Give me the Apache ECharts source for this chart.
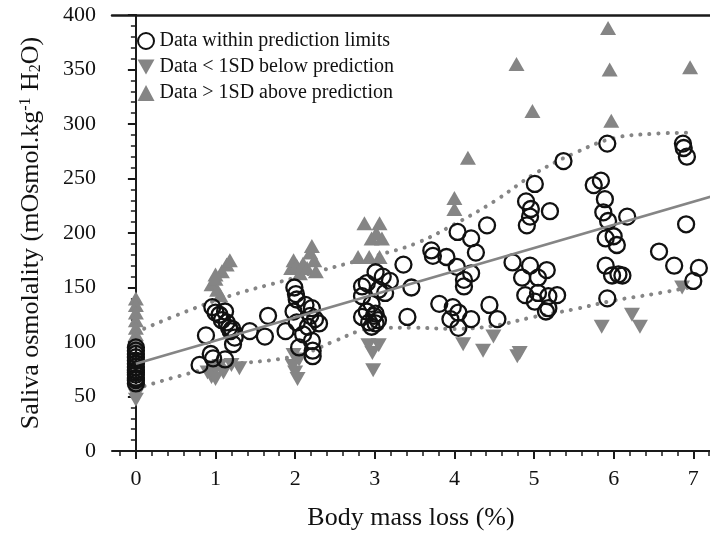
<!DOCTYPE html>
<html><head><meta charset="utf-8">
<script src="https://cdn.jsdelivr.net/npm/echarts@6/dist/echarts.min.js"></script>
<style>html,body{margin:0;padding:0;background:#fff}#c{width:710px;height:536px}</style>
</head><body><div id="c"></div>
<script>
var xTicks = [0,1,2,3,4,5,6,7];
var xMinorTicks = [-0.2,0.2,0.4,0.6,0.8,1.2,1.4,1.6,1.8,2.2,2.4,2.6,2.8,3.2,3.4,3.6,3.8,4.2,4.4,4.6,4.8,5.2,5.4,5.6,5.8,6.2,6.4,6.6,6.8,7.2];
var yTicks = [0,50,100,150,200,250,300,350,400];

var withinData = [
 [0,62],[0,65],[0,67],[0,70],[0,72],[0,74],[0,77],[0,80],[0,83],[0,86],[0,89],[0,92],[0,95],
 [0.80,79],[0.88,106],[0.94,89],[0.97,85],[0.96,132],[1.0,127],[1.05,125],[1.08,120],[1.12,128],[1.14,118],[1.17,113],[1.19,110],[1.21,112],[1.22,98],[1.24,104],[1.12,84],[1.43,110],[1.62,105],[1.66,124],
 [1.88,110],[1.99,150],[2.01,144],[2.02,139],[1.98,128],[2.02,118],[2.05,95],[2.10,107],[2.16,114],[2.21,131],[2.25,121],[2.21,101],[2.22,92],[2.22,87],[2.30,117],[2.19,124],[2.13,134],
 [2.84,151],[2.90,154],[3.01,164],[3.10,160],[3.19,156],[3.05,148],[3.13,145],[2.84,142],[2.96,135],[2.90,128],[3.01,126],[2.84,123],[2.93,118],[3.01,117],[2.99,124],[2.96,114],[3.04,120],[3.36,171],[3.46,150],[3.41,123],
 [3.71,184],[3.73,179],[3.90,178],[4.04,201],[4.03,169],[4.21,195],[4.27,182],[4.41,207],[4.21,163],[4.12,157],[4.12,151],[3.81,135],[3.98,132],[4.05,127],[3.95,121],[4.21,121],[4.05,113],[4.44,134],[4.54,121],
 [4.73,173],[4.90,229],[4.95,215],[4.96,222],[4.91,207],[5.01,245],[5.20,220],[5.37,266],[4.95,170],[4.85,159],[5.05,159],[5.16,166],[4.89,143],[5.05,145],[5.01,137],[5.18,131],[5.15,128],[5.29,143],[5.18,142],
 [5.92,282],[5.75,244],[5.84,248],[5.89,231],[5.87,219],[5.93,211],[6.17,215],[5.90,195],[6.00,197],[6.04,189],[5.90,170],[5.98,161],[6.06,162],[6.11,161],[5.92,140],[6.57,183],[6.76,170],[6.91,208],[6.87,282],[6.88,278],[6.92,270],[7.07,168],[7.0,156]
];
var belowData = [
 [0,55],[0,51],[0,47],
 [0.9,72],[0.95,68],[1.0,76],[1.05,78],[1.1,72],[1.2,79],[1.3,76],[1.0,66],
 [1.97,78],[2.0,72],[2.03,66],[2.05,84],[1.98,88],
 [2.92,97],[3.05,97],[2.97,90],[2.98,74],
 [4.11,98],[4.36,92],[4.49,105],[4.79,87],[4.82,90],
 [5.85,114],[6.23,125],[6.33,114],[6.86,150]
];
var aboveData = [
 [0,140],[0,134],[0,127],[0,120],[0,113],[0,107],[0,102],
 [0.95,153],[1.0,158],[1.02,148],[1.06,143],[1.08,165],[1.14,171],[1.18,175],[1.0,162],
 [1.95,168],[1.98,175],[2.02,170],[2.06,163],[2.1,172],[2.15,168],[2.19,182],[2.21,188],[2.24,175],[2.26,165],
 [2.87,209],[3.06,209],[2.96,195],[3.09,195],[3.02,200],[2.79,178],[2.93,178],[3.06,178],
 [4.0,232],[4.0,222],[4.17,269],
 [4.78,355],[4.98,312],
 [5.93,388],[5.95,350],[5.97,303],
 [6.96,352]
];
var regressionData = [[0,80],[7.25,234]];
var upperLimit = [[0,109],[1,138],[2,159],[3,179],[3.5,190],[4,208],[4.5,229],[5,254],[5.5,273],[6,287],[6.5,291],[6.95,292]];
var lowerLimit = [[0,57],[1,77],[2,87],[2.5,101],[2.8,110],[3,113],[3.5,113],[4,112],[4.5,115],[5,123],[5.5,130],[6,138],[6.5,144],[6.95,150]];

var FONT = '"Liberation Serif","Times New Roman",serif';
var AXC = '#1a1a1a';
var TXT = '#111';
var GRAY = '#858585';
var X_MIN = -0.3, X_MAX = 7.21;

var chart = echarts.init(document.getElementById('c'));
chart.setOption({
  animation: false,
  backgroundColor: '#fff',
  grid: {left: 112, top: 15, right: 0, bottom: 84},
  legend: {
    left: 132, top: 26, orient: 'vertical', itemGap: 6, itemWidth: 17, itemHeight: 16,
    textStyle: {fontFamily: FONT, fontSize: 20, color: TXT},
    data: ['Data within prediction limits', 'Data < 1SD below prediction', 'Data > 1SD above prediction']
  },
  xAxis: [
    {type: 'value', min: X_MIN, max: X_MAX, position: 'bottom',
     axisLine: {show: true, lineStyle: {color: AXC, width: 2}},
     axisTick: {show: true, customValues: xTicks, length: 8, lineStyle: {color: AXC, width: 2}},
     axisLabel: {customValues: xTicks, margin: 17, fontFamily: FONT, fontSize: 22, color: TXT},
     splitLine: {show: false},
     name: 'Body mass loss (%)', nameLocation: 'middle', nameGap: 54,
     nameTextStyle: {fontFamily: FONT, fontSize: 26, color: TXT}},
    {type: 'value', min: X_MIN, max: X_MAX, position: 'bottom',
     axisLine: {show: false},
     axisTick: {show: true, customValues: xMinorTicks, length: 5, lineStyle: {color: AXC, width: 1.5}},
     axisLabel: {show: false}, splitLine: {show: false}},
    {type: 'value', min: X_MIN, max: X_MAX, position: 'top',
     axisLine: {show: true, lineStyle: {color: AXC, width: 2.5}},
     axisTick: {show: false}, axisLabel: {show: false}, splitLine: {show: false}}
  ],
  yAxis: [
    {type: 'value', min: 0, max: 400, interval: 50, position: 'left',
     axisLine: {show: true, lineStyle: {color: AXC, width: 2}},
     axisTick: {show: true, length: 8, lineStyle: {color: AXC, width: 2}},
     minorTick: {show: true, splitNumber: 5, length: 5, lineStyle: {color: AXC, width: 1.5}},
     axisLabel: {margin: 16, fontFamily: FONT, fontSize: 22, color: TXT},
     splitLine: {show: false},
     name: 'Saliva osmolality (mOsmol.kg{sup|-1} H{sub|2}O)', nameLocation: 'middle', nameGap: 68,
     nameTextStyle: {fontFamily: FONT, fontSize: 26, color: TXT,
       rich: {sup: {fontFamily: FONT, fontSize: 16, color: TXT, verticalAlign: 'top', lineHeight: 26},
              sub: {fontFamily: FONT, fontSize: 16, color: TXT, verticalAlign: 'bottom', lineHeight: 26}}}},
    {type: 'value', min: 0, max: 400, interval: 50, position: 'right',
     axisLine: {show: true, lineStyle: {color: AXC, width: 2}},
     axisTick: {show: true, inside: true, length: 6, lineStyle: {color: AXC, width: 2}},
     axisLabel: {show: false}, splitLine: {show: false}}
  ],
  series: [
    {name: 'upper', type: 'line', data: upperLimit, smooth: 0.4, symbol: 'none', silent: true,
     lineStyle: {color: GRAY, width: 4, type: [0.1, 9], cap: 'round'}, z: 1},
    {name: 'lower', type: 'line', data: lowerLimit, smooth: 0.4, symbol: 'none', silent: true,
     lineStyle: {color: GRAY, width: 4, type: [0.1, 9], cap: 'round'}, z: 1},
    {name: 'Data > 1SD above prediction', type: 'scatter', data: aboveData,
     symbol: 'triangle', symbolSize: [16, 14], itemStyle: {color: GRAY, opacity: 1}, z: 2},
    {name: 'Data < 1SD below prediction', type: 'scatter', data: belowData,
     symbol: 'path://M0,0 L10,0 L5,8.7 Z', symbolSize: [16, 14], itemStyle: {color: GRAY, opacity: 1}, z: 2},
    {name: 'Data within prediction limits', type: 'scatter', data: withinData,
     symbol: 'circle', symbolSize: 16,
     itemStyle: {color: 'rgba(0,0,0,0)', borderColor: '#111', borderWidth: 2.3, opacity: 1}, z: 3},
    {name: 'regression', type: 'line', data: regressionData, symbol: 'none', silent: true,
     lineStyle: {color: GRAY, width: 2.5}, z: 4}
  ]
});
</script></body></html>
